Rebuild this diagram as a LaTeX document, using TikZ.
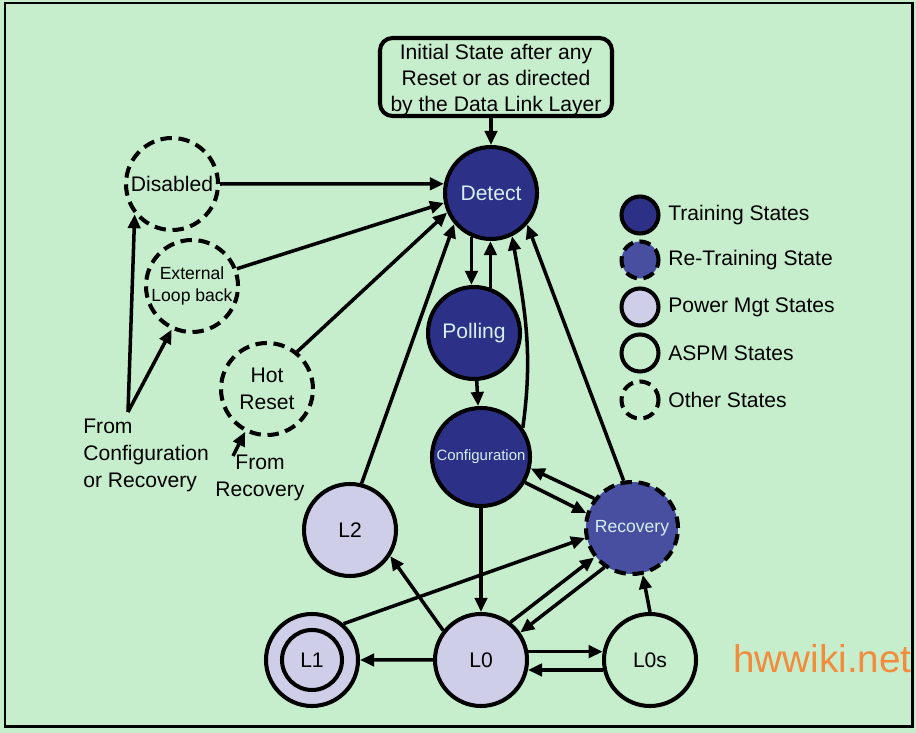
\documentclass[tikz,border=0pt]{standalone}
\usepackage{fontspec}
\setmainfont{Liberation Sans}
\usetikzlibrary{arrows.meta}
\definecolor{bggreen}{RGB}{198,238,204}
\definecolor{trainblue}{RGB}{44,48,134}
\definecolor{retrainblue}{RGB}{72,78,160}
\definecolor{pmlilac}{RGB}{206,206,232}
\definecolor{statetext}{RGB}{212,240,240}
\definecolor{wmorange}{RGB}{242,140,60}
\begin{document}
\begin{tikzpicture}[scale=0.2]
\tikzstyle{every node}+=[inner sep=0pt]
\tikzstyle{statenode}=[circle,draw=black,line width=2.3pt,minimum size=1.84cm,font=\fontsize{12}{14}\selectfont]
\tikzstyle{training}=[statenode,fill=trainblue,text=statetext]
\tikzstyle{retraining}=[statenode,fill=retrainblue,text=statetext,dash pattern=on 6.5pt off 3.8pt]
\tikzstyle{powermgt}=[statenode,fill=pmlilac]
\tikzstyle{aspm}=[statenode]
\tikzstyle{otherstate}=[statenode,dash pattern=on 6.5pt off 3.8pt]
\tikzstyle{legend}=[minimum size=0.74cm]
\tikzstyle{legendtext}=[anchor=west,font=\fontsize{12}{14}\selectfont]
\tikzstyle{trans}=[line width=2pt,-{Triangle[length=8pt,width=7pt]}]
\useasboundingbox (0,0) rectangle (91.6,-73.3);
\fill [bggreen] (0,0) rectangle (91.6,-73.3);
\draw [black,line width=1.7pt] (0.5,-0.3) rectangle (91.2,-72.65);
\node [draw,line width=2.3pt,rounded corners=0.25cm,fill=bggreen,minimum width=4.64cm,minimum height=1.56cm] (init) at (49.6,-7.7) {};
\node [align=center,font=\fontsize{12}{14.7}\selectfont] (inittext) at (49.6,-8.0) {Initial State after any\\Reset or as directed\\by the Data Link Layer};
\node [training] (detect) at (49.1,-19.3) {Detect};
\node [training] (polling) at (47.4,-33.3) {Polling};
\node [training,minimum size=1.96cm,font=\fontsize{8.5}{10}\selectfont] (config) at (48.1,-45.7) {Configuration};
\node [retraining,font=\fontsize{10}{12}\selectfont] (recovery) at (63.2,-52.8) {Recovery};
\node [powermgt] (ltwo) at (35.0,-53.0) {L2};
\node [powermgt] (lone) at (31.2,-66.0) {};
\node [powermgt,minimum size=1.2cm] (lonein) at (lone) {L1};
\node [powermgt] (lzero) at (48.1,-66.0) {L0};
\node [aspm] (lzeros) at (65.0,-66.0) {L0s};
\node [otherstate] (disabled) at (17.2,-18.4) {Disabled};
\node [otherstate,align=center,font=\fontsize{10}{12.5}\selectfont] (loopback) at (19.2,-28.6) {External\\Loop back};
\node [otherstate,align=center,font=\fontsize{12}{15.4}\selectfont] (hotreset) at (26.7,-38.9) {Hot\\Reset};
\node [training,legend] (legtrain) at (64.0,-21.5) {};
\node [legendtext] (legtraintext) at (66.8,-21.5) {Training States};
\node [retraining,legend] (legretrain) at (64.0,-26.0) {};
\node [legendtext] (legretraintext) at (66.8,-26.0) {Re-Training State};
\node [powermgt,legend] (legpower) at (64.0,-30.7) {};
\node [legendtext] (legpowertext) at (66.8,-30.7) {Power Mgt States};
\node [aspm,legend] (legaspm) at (64.0,-35.3) {};
\node [legendtext] (legaspmtext) at (66.8,-35.3) {ASPM States};
\node [otherstate,legend] (legother) at (64.0,-40.0) {};
\node [legendtext] (legothertext) at (66.8,-40.0) {Other States};
\node [align=left,anchor=north west,font=\fontsize{12}{15.3}\selectfont] (fromcfgtext) at (8.3,-41.9) {From\\Configuration\\or Recovery};
\node [align=center,anchor=north,font=\fontsize{12}{15.3}\selectfont] (fromrectext) at (26.0,-45.5) {From\\Recovery};
\node [anchor=base west,text=wmorange,font=\fontsize{22}{26}\selectfont] (watermark) at (73.3,-67.2) {hwwiki.net};
\coordinate (cfgsrc) at (12.8,-41.2);
\coordinate (recsrc) at (23.3,-45.6);
\draw [trans] (detect.north |- init.south) -- (detect.north);
\draw [trans] (disabled.east) -- (detect.169);
\draw [trans] (loopback.21) -- (detect.192);
\draw [trans] (hotreset.51) -- (detect.204);
\draw [trans] (ltwo.76) -- (detect.220);
\draw [trans] (detect.246) -- (detect.246 |- polling.north);
\draw [trans] (polling.70) -- (polling.70 |- detect.south);
\draw [trans] (polling) -- (config);
\draw [trans] (config.35) to[out=82,in=-80] (detect.296);
\draw [trans] (recovery.100) -- (detect.-41);
\draw [trans] (recovery.142) -- (config.-13);
\draw [trans] (config.-30) -- (recovery.162);
\draw [trans] (config) -- (lzero);
\draw [trans] (lzero.142) -- (ltwo.-33);
\draw [trans] (lzero) -- (lone);
\draw [trans] (lone.49) -- (recovery.192);
\draw [trans] (lzero.52) -- (recovery.218);
\draw [trans] (recovery.235) -- (lzero.35);
\draw [trans] (lzero.10) -- (lzeros.170);
\draw [trans] (lzeros.192) -- (lzero.-12);
\draw [trans] (lzeros.north) -- (recovery.-77);
\draw [trans] (cfgsrc) -- (disabled.219);
\draw [trans] (cfgsrc) -- (loopback.245);
\draw [trans] (recsrc) -- (hotreset.243);
\end{tikzpicture}
\end{document}
